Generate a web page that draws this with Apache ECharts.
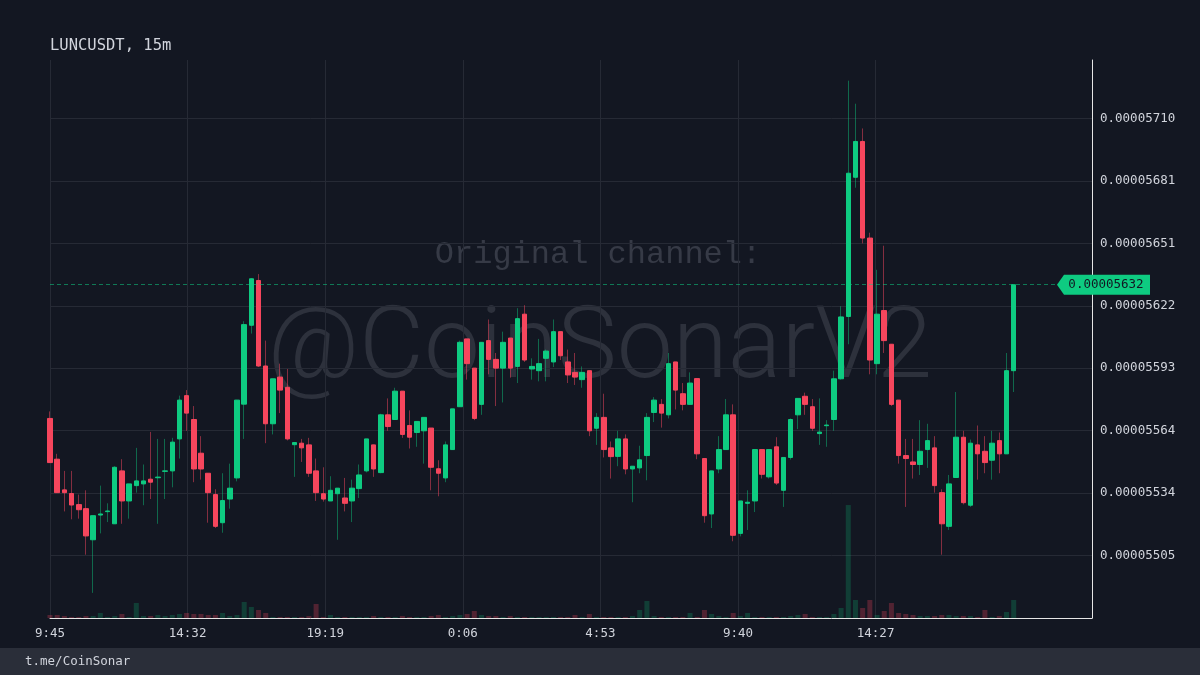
<!DOCTYPE html>
<html><head><meta charset="utf-8">
<script src="https://cdn.jsdelivr.net/npm/echarts@6/dist/echarts.min.js"></script>
<style>html,body{margin:0;padding:0;background:#131722;}#c{width:1200px;height:675px;}</style>
</head><body><div id="c"></div>
<script>
// ---- data (prices in units of 1e-8 USDT) ----
const symbolTitle = 'LUNCUSDT, 15m';
const startMinuteOfDay = 585;      // 9:45
const candleMinutes = 15;
const priceUnit = 1e-8;
const open = [5569.3,5550.2,5535.8,5534.1,5528.9,5527.0,5512.4,5524.0,5525.6,5519.9,5544.7,5530.6,5537.8,5538.6,5540.8,5541.5,5544.5,
5544.7,5559.7,5580.0,5568.8,5553.0,5543.6,5533.6,5520.4,5531.5,5541.4,5576.0,5613.0,5634.0,5593.9,5566.8,5588.7,5583.9,
5557.0,5557.7,5556.9,5544.7,5534.0,5530.6,5534.0,5532.0,5530.6,5536.4,5544.7,5556.9,5543.9,5571.0,5568.8,5582.1,5566.0,
5562.7,5563.5,5564.8,5545.7,5541.4,5554.7,5574.8,5606.6,5592.9,5575.9,5605.8,5597.0,5592.9,5607.0,5593.7,5618.2,5592.5,5591.7,
5597.5,5595.8,5610.0,5595.8,5590.9,5587.5,5591.7,5564.7,5569.8,5555.5,5551.5,5559.7,5545.6,5546.1,5551.9,5572.1,5575.9,
5571.0,5595.8,5580.9,5575.9,5588.0,5550.5,5524.5,5545.6,5554.7,5571.0,5515.4,5529.5,5530.6,5554.7,5541.9,5556.0,5535.6,
5551.0,5571.0,5579.7,5574.8,5562.2,5565.9,5568.8,5587.9,5617.1,5682.4,5699.2,5653.9,5595.0,5619.9,5604.1,5577.9,5551.9,
5548.9,5547.7,5554.7,5555.5,5534.5,5518.7,5541.6,5560.5,5528.6,5556.9,5553.9,5549.7,5558.9,5552.7,5591.7];
const high = [5572.6,5552.7,5544.7,5544.7,5533.6,5535.6,5523.7,5537.8,5529.5,5546.9,5550.2,5538.6,5555.5,5547.7,5563.0,5559.7,5559.7,
5560.2,5580.0,5582.6,5575.1,5561.0,5543.6,5536.1,5543.6,5548.1,5578.0,5614.9,5635.0,5637.0,5605.8,5587.9,5595.0,5592.5,
5558.2,5559.7,5560.2,5550.5,5546.4,5542.2,5536.6,5541.4,5540.6,5547.7,5559.7,5557.0,5571.5,5578.7,5583.7,5582.1,5573.1,
5568.0,5569.8,5564.8,5549.7,5558.5,5573.8,5605.8,5606.6,5592.9,5605.0,5615.7,5600.0,5610.0,5607.0,5621.0,5622.4,5597.5,5606.6,
5601.6,5615.7,5610.0,5601.6,5600.0,5593.7,5591.7,5571.8,5580.9,5558.5,5563.5,5561.8,5546.9,5556.5,5571.8,5579.3,5578.4,
5600.0,5595.8,5585.9,5590.9,5588.0,5550.5,5544.7,5561.0,5578.4,5575.9,5530.6,5535.6,5554.7,5554.7,5554.7,5560.5,5551.0,
5569.3,5578.7,5581.4,5578.4,5578.7,5568.5,5591.7,5621.9,5727.7,5716.9,5705.3,5656.4,5639.0,5650.3,5604.1,5577.9,5559.7,
5559.7,5568.5,5566.8,5561.0,5536.1,5542.8,5581.7,5563.5,5559.4,5566.0,5561.0,5563.5,5562.7,5600.0,5632.0];
const low = [5548.6,5534.5,5525.7,5522.0,5522.3,5505.4,5487.5,5515.4,5520.7,5519.9,5519.9,5522.3,5534.5,5528.6,5531.5,5519.9,5531.5,
5537.0,5550.5,5563.5,5539.4,5540.6,5520.4,5517.9,5515.7,5527.0,5539.8,5559.7,5609.1,5593.4,5557.7,5561.8,5571.8,5559.0,
5541.9,5548.9,5541.9,5530.6,5530.3,5530.6,5512.4,5525.7,5520.7,5532.0,5544.0,5541.9,5543.6,5563.5,5568.8,5560.2,5555.2,
5556.0,5548.1,5535.6,5532.8,5539.4,5554.7,5574.8,5587.5,5568.5,5571.0,5590.0,5575.1,5576.8,5588.4,5585.9,5595.8,5587.5,5586.7,
5586.7,5593.4,5596.7,5585.9,5585.0,5583.7,5561.0,5556.9,5551.0,5541.1,5546.9,5543.1,5530.0,5543.6,5540.3,5567.6,5565.0,
5569.3,5573.5,5573.1,5575.9,5550.2,5520.4,5517.9,5543.6,5554.7,5511.7,5514.0,5517.0,5525.4,5541.1,5541.1,5538.1,5527.8,
5550.0,5564.3,5571.0,5563.5,5556.9,5556.0,5563.5,5587.5,5604.1,5677.5,5651.4,5590.0,5590.0,5600.0,5575.1,5548.1,5527.8,
5541.1,5542.8,5546.1,5534.5,5505.4,5517.0,5541.6,5529.0,5527.8,5540.6,5543.6,5540.6,5543.6,5552.7,5581.7];
const close = [5548.6,5534.5,5534.5,5528.7,5526.5,5514.2,5523.7,5524.5,5525.9,5546.4,5530.6,5538.6,5540.0,5540.0,5539.4,5541.8,5544.7,
5558.2,5577.9,5571.8,5545.6,5545.6,5534.5,5518.7,5530.8,5536.6,5577.9,5613.3,5634.8,5593.9,5566.8,5587.9,5582.6,5559.7,
5558.0,5555.5,5543.6,5534.5,5531.5,5535.6,5536.6,5529.5,5536.6,5542.8,5559.7,5545.6,5571.0,5565.5,5582.1,5561.8,5560.5,
5567.9,5569.8,5546.4,5543.6,5556.9,5573.8,5605.0,5595.0,5569.3,5605.0,5597.0,5592.9,5605.0,5592.9,5616.1,5596.7,5593.7,5595.0,
5600.9,5610.0,5598.7,5589.7,5588.7,5590.9,5563.5,5569.8,5554.7,5551.4,5559.7,5545.6,5546.9,5549.9,5569.8,5577.9,5571.8,
5595.0,5582.6,5575.9,5585.9,5552.7,5523.7,5544.7,5554.7,5571.0,5514.5,5530.6,5530.0,5554.7,5543.1,5554.7,5539.0,5551.0,
5568.8,5578.7,5575.9,5564.7,5562.9,5566.2,5587.9,5616.9,5684.3,5699.2,5653.9,5596.7,5618.2,5605.8,5575.9,5551.9,5550.5,
5547.7,5553.9,5558.9,5537.8,5519.9,5538.6,5560.5,5529.8,5557.7,5552.7,5548.6,5557.7,5552.7,5591.7,5632.0];
const volume = [3,3,2,1,1,2,2,5,1,2,4,1,15,2,2,3,2,
3,4,5,4,4,3,3,5,2,3,16,11,8,5,1,1,1,
1,1,2,14,1,3,1,1,1,1,1,2,1,1,1,2,1,
1,1,2,3,1,2,3,4,7,3,2,2,1,2,1,1,1,1,
1,1,1,1,3,1,4,1,1,1,1,1,2,8,17,2,1,
1,1,1,5,1,8,4,2,1,5,2,5,1,1,1,1,1,
2,3,4,1,1,1,4,10,113,18,10,18,3,7,15,5,4,
3,2,2,2,3,3,2,2,2,1,8,1,2,6,18];
const lastPrice = 5632.0;
const yFirstTick = 5505.0;
const yTickStep = 29.2857;
const timeTickStep = 287;   // minutes between time labels
const timeLabelCount = 7;   // 9:45 ... 14:27

// ---- colours ----
const UP = '#0ecb81', DOWN = '#f6465d';
const UP_WICK = 'rgba(14,203,129,0.45)', DOWN_WICK = 'rgba(246,70,93,0.5)';
const UP_VOL = 'rgba(14,203,129,0.22)', DOWN_VOL = 'rgba(246,70,93,0.28)';
const TXT = '#d1d4dc', GRID = '#262a35';
const MONO = '"DejaVu Sans Mono", monospace';

const chart = echarts.init(document.getElementById('c'), null, {renderer: 'canvas', width: 1200, height: 675});

const gridLeft = 50, gridRight = 108, gridTop = 60, gridBottom = 57;
const pxPerMinute = 137.6 / timeTickStep;
const xMax = (1200 - gridLeft - gridRight) / pxPerMinute;
const yMin = yFirstTick - yTickStep;
const yMax = 5737.4;
const timeTicks = Array.from({length: timeLabelCount}, (_, k) => k * timeTickStep);
const lastTimeTick = timeTicks[timeTicks.length - 1];

const xs = open.map((_, i) => i * candleMinutes);
const candleData = open.map((o, i) => [xs[i], o, close[i], low[i], high[i]]);
const bodyData = open.map((o, i) => [xs[i], o, close[i], Math.min(o, close[i]), Math.max(o, close[i])]);
const volData = volume.map((v, i) => ({value: [xs[i], v], itemStyle: {color: close[i] >= open[i] ? UP_VOL : DOWN_VOL}}));
const maxVol = Math.max.apply(null, volume);

const fmtPrice = v => (v * priceUnit).toFixed(8);
const fmtTime = v => {
  if (v > lastTimeTick + 1) return '';
  const m = Math.round(startMinuteOfDay + v) % 1440;
  return Math.floor(m / 60) + ':' + String(m % 60).padStart(2, '0');
};

chart.setOption({
  backgroundColor: '#131722',
  animation: false,
  title: {
    text: symbolTitle, left: 50, top: 38, padding: 0,
    textStyle: {color: TXT, fontSize: 15.5, fontWeight: 'normal', fontFamily: MONO}
  },
  grid: {left: gridLeft, right: gridRight, top: gridTop, bottom: gridBottom, containLabel: false},
  xAxis: {
    type: 'value', min: 0, max: xMax, interval: timeTickStep,
    axisLine: {show: true, onZero: false, lineStyle: {color: '#e6e6e6', width: 1}},
    axisTick: {show: false},
    axisLabel: {color: TXT, fontFamily: MONO, fontSize: 12.5, margin: 9, formatter: fmtTime, showMaxLabel: false, showMinLabel: true},
    splitLine: {show: false}
  },
  yAxis: [{
    type: 'value', position: 'right', scale: true, min: yMin, max: yMax, interval: yTickStep,
    axisLine: {show: true, onZero: false, lineStyle: {color: '#e6e6e6', width: 1}},
    axisTick: {show: false},
    axisLabel: {color: TXT, fontFamily: MONO, fontSize: 12.5, margin: 8, formatter: fmtPrice, showMinLabel: false, showMaxLabel: false},
    splitLine: {show: true, showMinLine: false, showMaxLine: false, lineStyle: {color: GRID, width: 1}}
  }, {
    type: 'value', min: 0, max: maxVol * 4.94, show: false,
    axisLine: {show: false}, axisLabel: {show: false}, splitLine: {show: false}
  }],
  graphic: [
    {type: 'text', x: 598, y: 255, z: 0, silent: true,
     style: {text: 'Original channel:', fill: '#363a46', font: '32px "Liberation Mono", monospace', align: 'center', verticalAlign: 'middle'}},
    {type: 'text', x: 600, y: 352, z: 0, silent: true,
     style: {text: '@CoinSonarV2', fill: '#2d313c', font: '300 100px Roboto, sans-serif', align: 'center', verticalAlign: 'middle'}},
    {type: 'rect', x: 0, y: 648, silent: true, shape: {width: 1200, height: 27}, style: {fill: '#2a2e39'}},
    {type: 'text', x: 25, y: 662, silent: true,
     style: {text: 't.me/CoinSonar', fill: TXT, font: '12.5px ' + MONO, align: 'left', verticalAlign: 'middle'}}
  ],
  series: [
    {
      type: 'bar', name: 'volume', xAxisIndex: 0, yAxisIndex: 1, barWidth: 5, z: 1, silent: true,
      data: volData,
      markLine: {
        silent: true, symbol: ['none', 'none'], animation: false, z: 0,
        lineStyle: {color: GRID, type: 'solid', width: 1},
        label: {show: false},
        data: timeTicks.map(t => ({xAxis: t}))
      }
    },
    {
      type: 'candlestick', name: 'wicks', xAxisIndex: 0, yAxisIndex: 0, barWidth: 1, z: 2, silent: true,
      itemStyle: {color: UP_WICK, color0: DOWN_WICK, borderColor: UP_WICK, borderColor0: DOWN_WICK, borderWidth: 1},
      data: candleData
    },
    {
      type: 'candlestick', name: 'LUNCUSDT', xAxisIndex: 0, yAxisIndex: 0, barWidth: 5, z: 3, silent: true,
      itemStyle: {color: UP, color0: DOWN, borderColor: UP, borderColor0: DOWN, borderWidth: 1},
      data: bodyData,
      markLine: {
        silent: true, symbol: ['none', 'none'], animation: false,
        lineStyle: {color: 'rgba(14,203,129,0.55)', type: [4, 3], width: 1},
        label: {show: false},
        data: [{yAxis: lastPrice}]
      },
      markPoint: {
        silent: true, animation: false,
        symbol: 'path://M0,10L7,0L93,0L93,20L7,20Z', symbolSize: [93, 20], symbolKeepAspect: false,
        symbolOffset: [11.5, 0],
        itemStyle: {color: '#0ecb81'},
        label: {show: true, position: 'inside', offset: [2.5, 0], color: '#131722', fontFamily: MONO, fontSize: 12.5,
                formatter: () => fmtPrice(lastPrice)},
        data: [{coord: [xMax, lastPrice]}]
      }
    }
  ]
});
</script>
</body></html>
